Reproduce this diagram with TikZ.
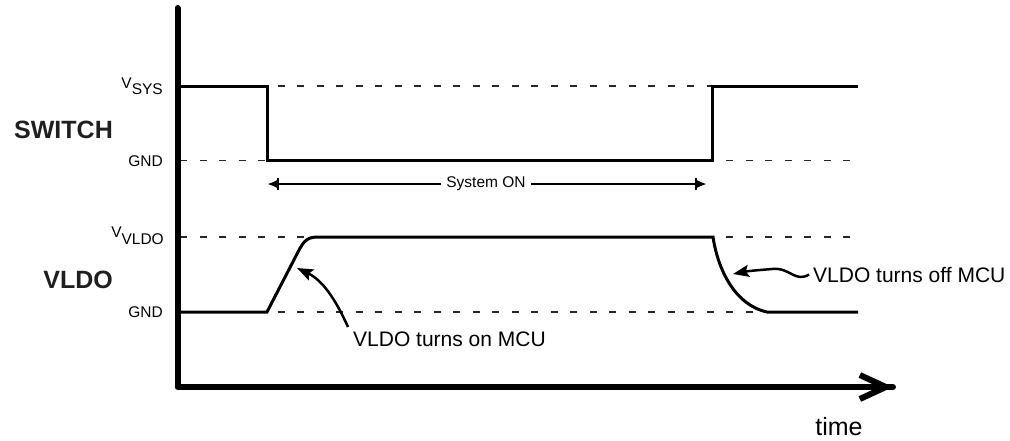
\documentclass[tikz,border=0pt]{standalone}
\usepackage{fontspec}
\setmainfont{Liberation Sans}
\usetikzlibrary{arrows.meta}
\begin{document}
\begin{tikzpicture}[x=1pt,y=-1pt,
  sig/.style={line width=3pt, line join=miter},
  lvl/.style={line width=1.3pt, dash pattern=on 7pt off 12.5pt, black!85},
  ax/.style={line width=6pt, line join=round},
  lab/.style={font=\fontsize{15.5}{18}\selectfont, inner sep=0pt},
  big/.style={font=\fontsize{25}{30}\selectfont\bfseries, inner sep=0pt, text=black!88},
  note/.style={font=\fontsize{21}{25}\selectfont, inner sep=0pt},
  callout/.style={line width=2.5pt, -{Stealth[length=16pt,width=12pt,inset=3pt]}},
  span/.style={line width=2pt, -{Bar[width=12pt,line width=2pt]Latex[length=10pt,width=8pt]}},
]
\useasboundingbox (0,0) rectangle (1010,440);

% reference levels
\draw[lvl] (180,86) -- (858,86);
\draw[lvl] (180,160.5) -- (858,160.5);
\draw[lvl] (180,237) -- (858,237);
\draw[lvl] (180,312) -- (858,312);

% axes
\coordinate (top) at (177.5,8);
\coordinate (orig) at (177.5,387);
\coordinate (tend) at (893,387);
\draw[ax, line cap=round] (top) -- (orig) -- (tend);
\draw[line width=6pt, -{Straight Barb[length=26pt,width=24pt,line width=6pt]}] (860,387) -- (tend);

% level labels
\node[lab, anchor=base east] (vsys) at (163,88) {V\raisebox{-6pt}{SYS}};
\node[lab, anchor=base east] (gnd1) at (163,166) {GND};
\node[lab, anchor=base east] (vvldo) at (164,237) {V\raisebox{-7pt}{VLDO}};
\node[lab, anchor=base east] (gnd2) at (163,317) {GND};

\node[big, anchor=base east] (switch) at (113,138) {SWITCH};
\node[big, anchor=base east] (vldo) at (113,288) {VLDO};

% SWITCH signal
\draw[sig] (180,86) -- (267,86) -- (267,160.5) -- (712,160.5) -- (712,86) -- (858,86);

% VLDO signal
\draw[sig] (180,312) -- (267,312) -- (298,252)
  .. controls (304,240) and (308,237) .. (318,237) -- (713,237)
  .. controls (718,270) and (735,305) .. (767,312) -- (858,312);

% System ON span
\node[lab, fill=white, inner xsep=5pt] (son) at (486,184) {System ON};
\coordinate (sonL) at (267,184);
\coordinate (sonR) at (707,184);
\draw[span] (son.west) -- (sonL);
\draw[span] (son.east) -- (sonR);

% callouts
\node[note, anchor=base west] (onlab) at (353,346) {VLDO turns on MCU};
\coordinate (onstart) at (348,327);
\coordinate (ontip) at (297,268);
\draw[callout] (onstart) .. controls (335,298) and (322,280) .. (ontip);

\node[note, anchor=base west] (offlab) at (813,282) {VLDO turns off MCU};
\coordinate (offtip) at (733,274);
\draw[callout] ([xshift=-4pt]offlab.west) .. controls (795,283) and (790,267) .. (772,269)
  .. controls (760,270) and (748,271) .. (offtip);

\node[font=\fontsize{25}{30}\selectfont, inner sep=0pt, anchor=base] (time) at (839,435) {time};
\end{tikzpicture}
\end{document}
